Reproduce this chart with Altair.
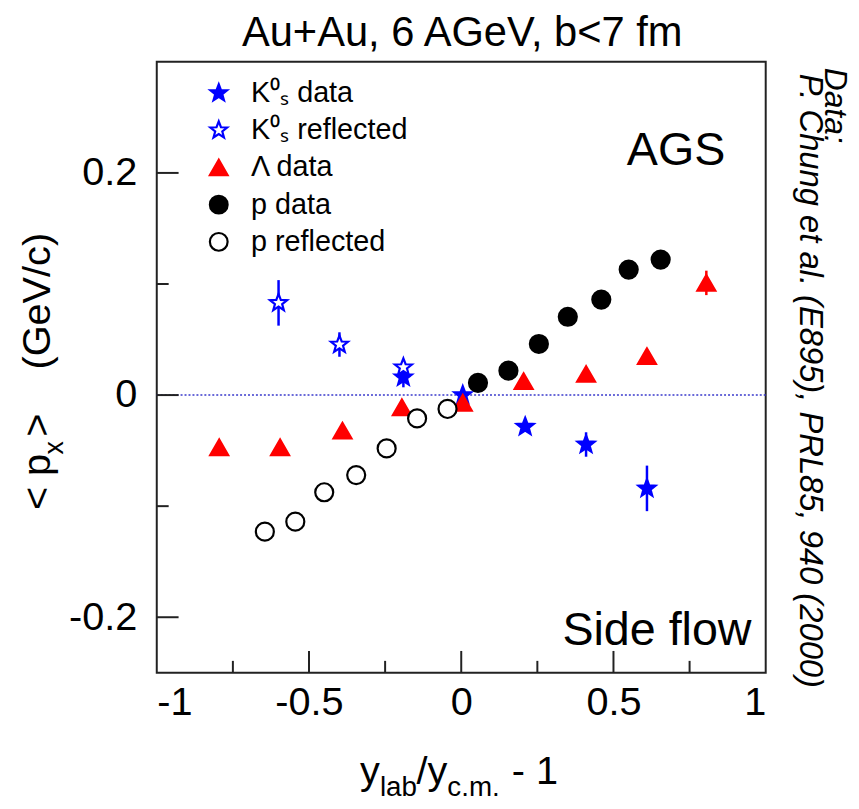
import altair as alt
import pandas as pd

# ---------------- data ----------------
series_names = ["K⁰ₛ data", "K⁰ₛ reflected", "Λ data", "p data", "p reflected"]

ks_data_x = [0.005, 0.21, 0.41, 0.61, -0.19]
ks_data_y = [0.0, -0.0285, -0.0445, -0.084, 0.016]
ks_data_err = [0.0, 0.0, 0.011, 0.0205, 0.009]

ks_refl_x = [-0.60, -0.40, -0.19]
ks_refl_y = [0.083, 0.0455, 0.025]
ks_refl_err = [0.0205, 0.011, 0.0]

lam_x = [-0.795, -0.595, -0.39, -0.195, 0.005, 0.205, 0.41, 0.61, 0.805]
lam_y = [-0.047, -0.047, -0.032, -0.011, -0.007, 0.0125, 0.019, 0.035, 0.101]
lam_err = [0, 0, 0, 0, 0, 0, 0, 0, 0.011]

p_data_x = [0.055, 0.155, 0.255, 0.35, 0.46, 0.55, 0.655]
p_data_y = [0.011, 0.022, 0.046, 0.0705, 0.086, 0.113, 0.122]

p_refl_x = [-0.045, -0.145, -0.245, -0.345, -0.45, -0.545, -0.645]
p_refl_y = [-0.0125, -0.021, -0.048, -0.072, -0.0875, -0.114, -0.123]

x_major = [-0.5, 0.0, 0.5]
x_minor = [-0.75, -0.25, 0.25, 0.75]
y_major = [-0.2, 0.0, 0.2]
y_minor = [-0.1, 0.1]
x_labels = [-1, -0.5, 0, 0.5, 1]
y_labels = [-0.2, 0, 0.2]

# ---------------- build tables ----------------
rows = []
for name, xs, ys, es in [
    (series_names[0], ks_data_x, ks_data_y, ks_data_err),
    (series_names[1], ks_refl_x, ks_refl_y, ks_refl_err),
    (series_names[2], lam_x, lam_y, lam_err),
    (series_names[3], p_data_x, p_data_y, [0] * len(p_data_x)),
    (series_names[4], p_refl_x, p_refl_y, [0] * len(p_refl_x)),
]:
    for xv, yv, ev in zip(xs, ys, es):
        rows.append({"series": name, "x": xv, "y": yv, "lo": yv - ev, "hi": yv + ev, "err": ev})
df = pd.DataFrame(rows)

W, H = 614, 616
FONT = "Liberation Sans"
BLUE = "#0000ff"
RED = "#ff0000"
NB = "\u00a0"

STAR = ("M0,-1L0.25,-0.34L0.95,-0.31L0.4,0.13L0.59,0.81L0,0.42"
        "L-0.59,0.81L-0.4,0.13L-0.95,-0.31L-0.25,-0.34Z")

xs_ = alt.Scale(domain=[-1, 1], nice=False, zero=False)
ys_ = alt.Scale(domain=[-0.25, 0.3], nice=False, zero=False)

x_axis = alt.Axis(values=x_labels, labelExpr="'' + datum.value", ticks=False, tickSize=0,
                  domain=False, grid=False, labelFontSize=40, labelPadding=10,
                  labelColor="black", labelFont=FONT, title=None, labelOverlap=False)
y_axis = alt.Axis(values=y_labels, labelExpr="'' + datum.value", ticks=False, tickSize=0,
                  domain=False, grid=False, labelFontSize=40, labelPadding=20,
                  labelColor="black", labelFont=FONT, title=None, labelOverlap=False)

leg = alt.Legend(title=None, orient="none", legendX=48, legendY=17,
                 labelFontSize=29, labelFont=FONT, labelColor="black",
                 symbolSize=320, symbolStrokeWidth=2.2, rowPadding=7.5,
                 labelOffset=18, padding=0, symbolOpacity=1)

zero = alt.Chart(pd.DataFrame({"v": [0.0]})).mark_rule(
    color="#3a3acc", strokeDash=[2, 2], strokeWidth=1.5
).encode(y=alt.Y("v:Q", scale=ys_, axis=y_axis))

err_blue = alt.Chart(df[(df["err"] > 0) & (df["series"].str.startswith("K"))]).mark_rule(
    color=BLUE, strokeWidth=2.5
).encode(x=alt.X("x:Q", scale=xs_, axis=x_axis), y=alt.Y("lo:Q", scale=ys_, axis=y_axis), y2="hi:Q")

err_red = alt.Chart(df[(df["err"] > 0) & (df["series"] == series_names[2])]).mark_rule(
    color=RED, strokeWidth=2.5
).encode(x=alt.X("x:Q", scale=xs_, axis=x_axis), y=alt.Y("lo:Q", scale=ys_, axis=y_axis), y2="hi:Q")

points = alt.Chart(df).mark_point(opacity=1, strokeWidth=2.2, size=330).encode(
    x=alt.X("x:Q", scale=xs_, axis=x_axis),
    y=alt.Y("y:Q", scale=ys_, axis=y_axis),
    shape=alt.Shape("series:N", scale=alt.Scale(domain=series_names,
                    range=[STAR, STAR, "triangle-up", "circle", "circle"]), legend=leg),
    fill=alt.Fill("series:N", scale=alt.Scale(domain=series_names,
                  range=[BLUE, "#ffffff", RED, "#000000", "#ffffff"]), legend=leg),
    stroke=alt.Stroke("series:N", scale=alt.Scale(domain=series_names,
                      range=[BLUE, BLUE, RED, "#000000", "#000000"]), legend=leg),
)

# inward ticks
def xticks(vals, length):
    return alt.Chart(pd.DataFrame({"v": vals})).mark_rule(color="#222", strokeWidth=2).encode(
        x=alt.X("v:Q", scale=xs_, axis=x_axis), y=alt.value(H), y2=alt.value(H - length))

def yticks(vals, length):
    return alt.Chart(pd.DataFrame({"v": vals})).mark_rule(color="#222", strokeWidth=2).encode(
        y=alt.Y("v:Q", scale=ys_, axis=y_axis), x=alt.value(0), x2=alt.value(length))

def txt(t, x, y, size, angle=0, align="left", baseline="alphabetic", italic=False):
    return alt.Chart(pd.DataFrame({"t": [t]})).mark_text(
        align=align, baseline=baseline, fontSize=size, angle=angle, font=FONT,
        fontStyle="italic" if italic else "normal", color="black"
    ).encode(x=alt.value(x), y=alt.value(y), text="t:N")

texts = [
    txt("Au+Au, 6 AGeV, b<7 fm", W / 2 + 1, -16, 42, align="center"),
    txt("AGS", 474, 104, 47),
    txt("Side flow", 409, 588, 47),
    txt("Data:", 684, 6, 32, angle=90, baseline="middle", italic=True),
    txt("P. Chung et al. (E895), PRL85, 940 (2000)", 659, 12, 33, angle=90,
        baseline="middle", italic=True),
    # y-axis title
    txt("<" + NB + "p", -108, 452, 40, angle=270),
    txt("x", -95, 396, 27, angle=270),
    txt(">" + NB * 4 + "(GeV/c)", -108, 378, 40, angle=270),
    # x-axis title
    txt("y", 205, 728, 40),
    txt("lab", 225, 740, 28),
    txt("/y", 262, 728, 40),
    txt("c.m.", 293, 740, 28),
    txt("-" + NB + "1", 358, 728, 40),
]

chart = alt.layer(
    zero, xticks(x_major, 22), xticks(x_minor, 12), yticks(y_major, 22), yticks(y_minor, 12),
    err_blue, err_red, points, *texts
).properties(
    width=W, height=H,
    padding={"left": 150, "top": 51, "right": 86, "bottom": 126},
    autosize=alt.AutoSizeParams(type="none"),
    background="white",
).configure(font=FONT).configure_view(stroke="#222", strokeWidth=2)

chart.save("out.html", embed_options={"renderer": "svg", "actions": False})
